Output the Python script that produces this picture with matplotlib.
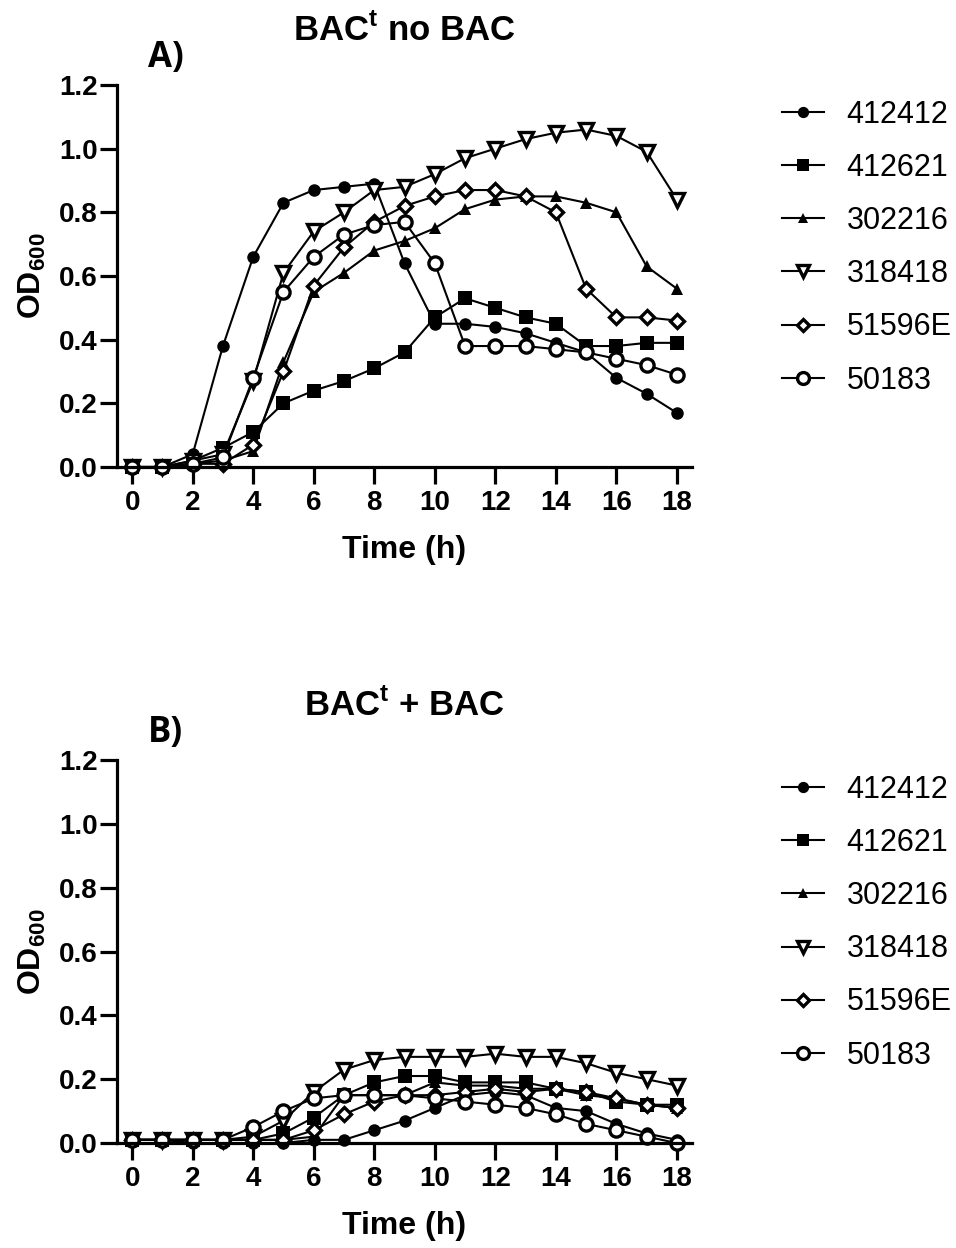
import matplotlib
matplotlib.use("Agg")
import matplotlib.pyplot as plt

plt.rcParams['font.family'] = ['Liberation Sans', 'DejaVu Sans']
plt.rcParams['mathtext.fontset'] = 'custom'
plt.rcParams['mathtext.bf'] = 'Liberation Sans:bold'
plt.rcParams['mathtext.rm'] = 'Liberation Sans'

# время, ч
hours = list(range(19))
strains = ["412412", "412621", "302216", "318418", "51596E", "50183"]

# A) без BAC
a_412412 = [0.00, 0.00, 0.04, 0.38, 0.66, 0.83, 0.87, 0.88, 0.89, 0.64, 0.45, 0.45, 0.44, 0.42, 0.39, 0.36, 0.28, 0.23, 0.17]
a_412621 = [0.00, 0.00, 0.02, 0.06, 0.11, 0.20, 0.24, 0.27, 0.31, 0.36, 0.47, 0.53, 0.50, 0.47, 0.45, 0.38, 0.38, 0.39, 0.39]
a_302216 = [0.00, 0.00, 0.01, 0.02, 0.05, 0.33, 0.55, 0.61, 0.68, 0.71, 0.75, 0.81, 0.84, 0.85, 0.85, 0.83, 0.80, 0.63, 0.56]
a_318418 = [0.00, 0.00, 0.02, 0.04, 0.27, 0.61, 0.74, 0.80, 0.87, 0.88, 0.92, 0.97, 1.00, 1.03, 1.05, 1.06, 1.04, 0.99, 0.84]
a_51596E = [0.00, 0.00, 0.01, 0.01, 0.07, 0.30, 0.57, 0.69, 0.77, 0.82, 0.85, 0.87, 0.87, 0.85, 0.80, 0.56, 0.47, 0.47, 0.46]
a_50183 = [0.00, 0.00, 0.01, 0.03, 0.28, 0.55, 0.66, 0.73, 0.76, 0.77, 0.64, 0.38, 0.38, 0.38, 0.37, 0.36, 0.34, 0.32, 0.29]

# B) с BAC
b_412412 = [0.01, 0.01, 0.00, 0.00, 0.00, 0.00, 0.01, 0.01, 0.04, 0.07, 0.11, 0.15, 0.16, 0.15, 0.11, 0.10, 0.06, 0.03, 0.01]
b_412621 = [0.01, 0.01, 0.01, 0.01, 0.01, 0.03, 0.08, 0.15, 0.19, 0.21, 0.21, 0.19, 0.19, 0.19, 0.17, 0.16, 0.13, 0.12, 0.12]
b_302216 = [0.01, 0.01, 0.01, 0.01, 0.01, 0.01, 0.02, 0.15, 0.15, 0.15, 0.19, 0.18, 0.18, 0.17, 0.17, 0.15, 0.14, 0.12, 0.11]
b_318418 = [0.01, 0.01, 0.01, 0.01, 0.02, 0.07, 0.16, 0.23, 0.26, 0.27, 0.27, 0.27, 0.28, 0.27, 0.27, 0.25, 0.22, 0.20, 0.18]
b_51596E = [0.01, 0.01, 0.01, 0.01, 0.01, 0.01, 0.04, 0.09, 0.13, 0.15, 0.15, 0.16, 0.17, 0.16, 0.17, 0.16, 0.14, 0.12, 0.11]
b_50183 = [0.01, 0.01, 0.01, 0.01, 0.05, 0.10, 0.14, 0.15, 0.15, 0.15, 0.14, 0.13, 0.12, 0.11, 0.09, 0.06, 0.04, 0.02, 0.00]

panel_a = [a_412412, a_412621, a_302216, a_318418, a_51596E, a_50183]
panel_b = [b_412412, b_412621, b_302216, b_318418, b_51596E, b_50183]

# маркеры как в Prism
styles = [
    dict(marker='o', ms=9, mfc='black', mew=0),
    dict(marker='s', ms=9.5, mfc='black', mew=0),
    dict(marker='^', ms=8.5, mfc='black', mew=0),
    dict(marker='v', ms=10, mfc='white', mew=2.4),
    dict(marker='D', ms=7, mfc='white', mew=2.4),
    dict(marker='o', ms=9.5, mfc='white', mew=2.4),
]


def draw_panel(ax, series, title, letter):
    for name, vals, st in zip(strains, series, styles):
        ax.plot(hours, vals, color='black', lw=1.5, mec='black', label=name, clip_on=False, **st)
    ax.set_xlim(-0.5, 18.5)
    ax.set_ylim(0, 1.2)
    ax.set_xticks(range(0, 19, 2))
    ax.set_yticks([0.0, 0.2, 0.4, 0.6, 0.8, 1.0, 1.2])
    ax.set_yticklabels(["0.0", "0.2", "0.4", "0.6", "0.8", "1.0", "1.2"])
    for s in ['top', 'right']:
        ax.spines[s].set_visible(False)
    for s in ['left', 'bottom']:
        ax.spines[s].set_linewidth(2.3)
    ax.tick_params(axis='both', width=2.3, length=12.5, labelsize=20, direction='out')
    ax.tick_params(axis='y', pad=1.5)
    ax.tick_params(axis='x', pad=4)
    for lab in ax.get_xticklabels() + ax.get_yticklabels():
        lab.set_fontweight('bold')
    ax.set_xlabel("Time (h)", fontsize=23, fontweight='bold', labelpad=14)
    ax.set_ylabel(r"OD$_{\mathbf{600}}$", fontsize=23, fontweight='bold', labelpad=8)
    ax.set_title(title, fontsize=25, fontweight='bold', pad=0, y=1.115)
    ax.text(0.085, 1.07, letter, transform=ax.transAxes, fontsize=25, fontweight='bold',
            family='Open Sans', ha='center', va='center')
    ax.legend(loc='upper left', bbox_to_anchor=(1.157, 0.962), frameon=False,
              fontsize=22, handlelength=1.35, handletextpad=0.75, labelspacing=0.76,
              borderpad=0, borderaxespad=0, markerscale=0.9)


fig = plt.figure(figsize=(9.56, 12.48), dpi=100)
ax1 = fig.add_axes([0.1224, 0.6258, 0.6015, 0.3061])
ax2 = fig.add_axes([0.1224, 0.0841, 0.6015, 0.3069])

draw_panel(ax1, panel_a, r"BAC$^{\mathbf{t}}$ no BAC", "A)")
draw_panel(ax2, panel_b, r"BAC$^{\mathbf{t}}$ + BAC", "B)")

fig.savefig("out.png", dpi=100)
